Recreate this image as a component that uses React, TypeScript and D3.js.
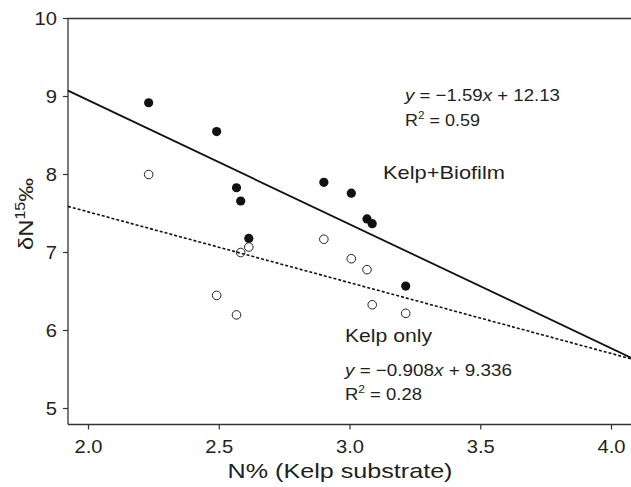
import React from "react";
import * as d3 from "d3";

const biofilmX = [2.23, 2.49, 2.566, 2.582, 2.613, 2.9, 3.005, 3.065, 3.085, 3.213];
const biofilmY = [8.92, 8.55, 7.83, 7.66, 7.18, 7.9, 7.76, 7.43, 7.37, 6.57];
const kelpX = [2.23, 2.49, 2.566, 2.582, 2.613, 2.9, 3.005, 3.065, 3.085, 3.213];
const kelpY = [8.0, 6.45, 6.2, 7.0, 7.07, 7.17, 6.92, 6.78, 6.33, 6.22];
const xTicks = [2.0, 2.5, 3.0, 3.5, 4.0];
const yTicks = [5, 6, 7, 8, 9, 10];
const biofilmFit = { slope: -1.59, intercept: 12.13 };
const kelpFit = { slope: -0.908, intercept: 9.336 };

const W = 631;
const H = 487;
const left = 68;
const right = 631;
const top = 18.5;
const bottom = 424.5;

export default function App() {
  const x = d3.scaleLinear().domain([2.0, 4.0]).range([88.5, 611.5]);
  const y = d3.scaleLinear().domain([5, 10]).range([408.5, 18.5]);
  const xMin = x.invert(left);
  const xMax = x.invert(right + 2);
  const line = d3
    .line<[number, number]>()
    .x((d) => x(d[0]))
    .y((d) => y(d[1]));
  const fitPts = (f: { slope: number; intercept: number }): [number, number][] => [
    [xMin, f.slope * xMin + f.intercept],
    [xMax, f.slope * xMax + f.intercept],
  ];
  const txt = "#231f20";
  const axisColor = "#333";
  const font = "'Liberation Sans', Arial, Helvetica, sans-serif";
  const sx = 1.12;
  return (
    <div style={{ position: "absolute", left: 0, top: 0 }}>
      <svg width={W} height={H} style={{ display: "block", background: "#fff" }} fontFamily={font}>
        {/* axes frame */}
        <line x1={left} x2={W} y1={top} y2={top} stroke={axisColor} strokeWidth={1.3} />
        <line x1={left} x2={left} y1={top} y2={bottom} stroke={axisColor} strokeWidth={1.3} />
        <line x1={left} x2={W} y1={bottom} y2={bottom} stroke={axisColor} strokeWidth={1.3} />
        {yTicks.map((t) => (
          <g key={"y" + t}>
            <line x1={left - 5} x2={left} y1={y(t)} y2={y(t)} stroke={axisColor} strokeWidth={1.2} />
            <g transform={`translate(${left - 11},${y(t)}) scale(${sx},1)`}>
              <text dy="0.36em" textAnchor="end" fontSize={18} fill={txt}>
                {t}
              </text>
            </g>
          </g>
        ))}
        {xTicks.map((t) => (
          <g key={"x" + t}>
            <line x1={x(t)} x2={x(t)} y1={bottom} y2={bottom + 5} stroke={axisColor} strokeWidth={1.2} />
            <g transform={`translate(${x(t)},${bottom + 28.5}) scale(${sx},1)`}>
              <text textAnchor="middle" fontSize={18} fill={txt}>
                {t.toFixed(1)}
              </text>
            </g>
          </g>
        ))}
        <text x={340} y={478} textAnchor="middle" fontSize={21} fill={txt} textLength={225} lengthAdjust="spacingAndGlyphs">
          N% (Kelp substrate)
        </text>
        <text transform="translate(33,214) rotate(-90)" textAnchor="middle" fontSize={21} fill={txt} textLength={72} lengthAdjust="spacingAndGlyphs">
          δN
          <tspan fontSize={14} dy={-8}>
            15
          </tspan>
          <tspan dy={8}>‰</tspan>
        </text>

        {/* points */}
        {biofilmX.map((v, i) => (
          <circle key={"b" + i} cx={x(v)} cy={y(biofilmY[i])} r={4.6} fill="#111" />
        ))}
        {kelpX.map((v, i) => (
          <circle key={"k" + i} cx={x(v)} cy={y(kelpY[i])} r={4.3} fill="#fff" stroke="#222" strokeWidth={1} />
        ))}

        {/* fit lines */}
        <path d={line(fitPts(biofilmFit)) || ""} stroke="#111" strokeWidth={1.8} fill="none" />
        <path d={line(fitPts(kelpFit)) || ""} stroke="#111" strokeWidth={1.6} strokeDasharray="3,2" fill="none" />

        {/* annotations */}
        <text x={405} y={101} fontSize={17} fill={txt} textLength={155} lengthAdjust="spacingAndGlyphs">
          <tspan fontStyle="italic">y</tspan> = −1.59<tspan fontStyle="italic">x</tspan> + 12.13
        </text>
        <text x={405} y={126} fontSize={17} fill={txt} textLength={75} lengthAdjust="spacingAndGlyphs">
          R<tspan fontSize={11} dy={-7}>2</tspan>
          <tspan dy={7}> = 0.59</tspan>
        </text>
        <text x={383} y={179} fontSize={19} fill={txt} textLength={122} lengthAdjust="spacingAndGlyphs">
          Kelp+Biofilm
        </text>
        <text x={345} y={342} fontSize={19} fill={txt} textLength={87} lengthAdjust="spacingAndGlyphs">
          Kelp only
        </text>
        <text x={345} y={376} fontSize={17} fill={txt} textLength={167} lengthAdjust="spacingAndGlyphs">
          <tspan fontStyle="italic">y</tspan> = −0.908<tspan fontStyle="italic">x</tspan> + 9.336
        </text>
        <text x={345} y={400} fontSize={17} fill={txt} textLength={77} lengthAdjust="spacingAndGlyphs">
          R<tspan fontSize={11} dy={-7}>2</tspan>
          <tspan dy={7}> = 0.28</tspan>
        </text>
      </svg>
    </div>
  );
}
